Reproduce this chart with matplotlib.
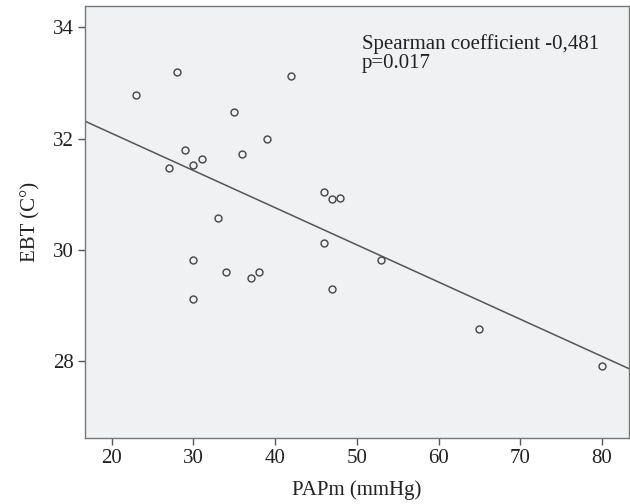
import numpy as np
import matplotlib
matplotlib.use("Agg")
import matplotlib.pyplot as plt

# Данные
papm = [23, 28, 42, 35, 39, 29, 36, 31, 30, 27, 46, 47, 48, 33,
        30, 34, 37, 38, 30, 46, 47, 53, 65, 80]
ebt = [32.79, 33.19, 33.13, 32.47, 32.00, 31.80, 31.73, 31.64, 31.53, 31.47,
       31.04, 30.91, 30.94, 30.57, 29.82, 29.60, 29.49, 29.60, 29.12, 30.13,
       29.29, 29.82, 28.58, 27.92]
x_ticks = [20, 30, 40, 50, 60, 70, 80]
y_ticks = [28, 30, 32, 34]
note = "Spearman coefficient -0,481\np=0.017"

plt.rcParams["font.family"] = ["Liberation Serif", "DejaVu Serif"]

fig = plt.figure(figsize=(6.3, 5.04), dpi=100)
ax = fig.add_axes([0.1344, 0.131, 0.864, 0.857])
ax.set_facecolor("#f0f1f3")

xlim = (16.7, 83.3)
ylim = (26.62, 34.38)

# линия регрессии
k, b = np.polyfit(papm, ebt, 1)
xs = np.array(xlim)
ax.plot(xs, k * xs + b, color="#555555", lw=1.1, zorder=2)

ax.plot(papm, ebt, "o", ms=5, mfc="none", mec="#444444", mew=1.0, zorder=3)

ax.set_xlim(*xlim)
ax.set_ylim(*ylim)
ax.set_xticks(x_ticks)
ax.set_yticks(y_ticks)
ax.tick_params(direction="out", length=5, width=1, color="#555555",
               labelsize=15, labelcolor="#222222", pad=3)

for s in ax.spines.values():
    s.set_color("#777777")
    s.set_linewidth(1.0)

ax.set_xlabel("PAPm (mmHg)", fontsize=15, color="#222222", labelpad=9)
ax.set_ylabel("EBT (C°)", fontsize=15, color="#222222", labelpad=9)

ax.text(50.6, 33.88, note, fontsize=15, color="#222222", va="top",
        ha="left", linespacing=1.0)

plt.savefig("out.png", dpi=100)
plt.close()
